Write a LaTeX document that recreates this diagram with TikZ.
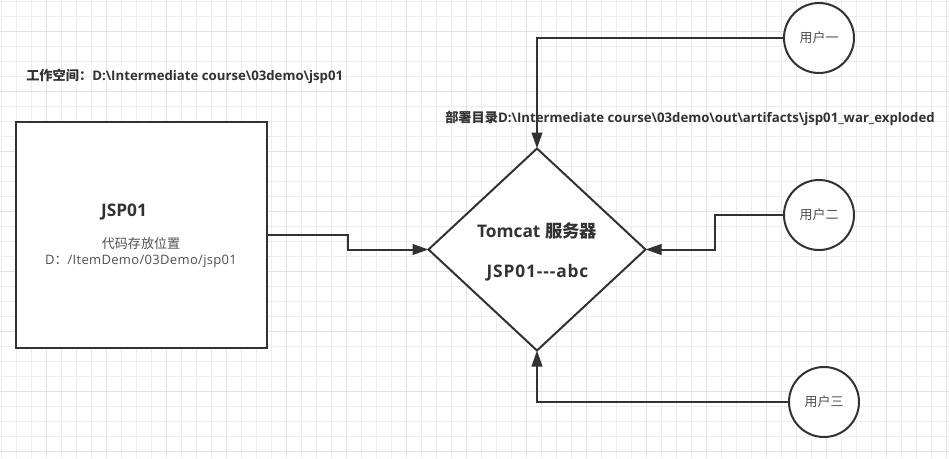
\documentclass[tikz,border=0pt]{standalone}
\usepackage{fontspec}
\setmainfont{Open Sans}
\newfontfamily\cjk{Noto Sans CJK SC}
\usetikzlibrary{shapes.geometric,arrows.meta}
\definecolor{ink}{HTML}{323232}
\tikzset{
  x=0.75pt,y=-0.75pt,
  shapeline/.style={draw=ink,line width=1.5pt,fill=white,inner sep=0pt,outer sep=0pt},
  conn/.style={draw=ink,line width=1.5pt,-{Triangle[length=12pt,width=8pt]}},
  boldtxt/.style={text=ink,font=\fontsize{9.9pt}{12pt}\selectfont\bfseries,inner sep=0pt},
  bigtxt/.style={text=ink,font=\fontsize{13pt}{15pt}\selectfont\bfseries,inner sep=0pt},
  plaintxt/.style={text=ink!85,font=\fontsize{9.75pt}{12pt}\selectfont,inner sep=0pt,align=center},
  usercircle/.style={shapeline,circle,minimum size=52.5pt}
}
\begin{document}
\begin{tikzpicture}
\useasboundingbox (0,0) rectangle (949,458);
\fill[white] (0,0) rectangle (949,458);
\foreach \gx in {1,16,...,949} \draw[black!7,line width=0.75pt] (\gx,0) -- (\gx,458);
\foreach \gy in {1,16,...,458} \draw[black!7,line width=0.75pt] (0,\gy) -- (949,\gy);
\foreach \gx in {46,106,...,949} \draw[black!11,line width=0.75pt] (\gx,0) -- (\gx,458);
\foreach \gy in {31,91,...,458} \draw[black!11,line width=0.75pt] (0,\gy) -- (949,\gy);
\node[shapeline,rectangle,minimum width=188pt,minimum height=169.5pt] (box) at (141.5,235) {};
\node[shapeline,diamond,minimum width=162.75pt,minimum height=151.5pt] (srv) at (537,249.5) {};
\node[usercircle] (u1) at (819,38) {};
\node[usercircle] (u2) at (819,215) {};
\node[usercircle] (u3) at (824,402) {};
\node[bigtxt] (t1) at (124,212) {JSP01};
\node[plaintxt] (t2) at (141,253) {{\cjk 代码存放位置}\\{\addfontfeature{LetterSpace=2.5}D{\cjk ：}/ItemDemo/03Demo/jsp01}};
\node[bigtxt] (t3) at (537,231) {Tomcat {\cjk 服务器}};
\node[bigtxt] (t4) at (537.5,273) {\addfontfeature{LetterSpace=5}JSP01{-}{-}{-}abc};
\node[boldtxt,anchor=west] (w) at (26,76.5) {{\cjk 工作空间：}D:\textbackslash Intermediate course\textbackslash 03demo\textbackslash jsp01};
\node[boldtxt,anchor=west] (d) at (445,118.5) {{\cjk 部署目录}D:\textbackslash Intermediate course\textbackslash 03demo\textbackslash out\textbackslash artifacts\textbackslash jsp01\_war\_exploded};
\node[plaintxt] (l1) at (819,38) {\cjk 用户一};
\node[plaintxt] (l2) at (819,215) {\cjk 用户二};
\node[plaintxt] (l3) at (824,402) {\cjk 用户三};
\draw[conn] (box.east |- 0,235) -- (348,235) -- (348,249.5) -- (srv.west);
\draw[conn] (u1.west) -| (srv.north);
\draw[conn] (u2.west) -- (715,215) -- (715,249.5) -- (srv.east);
\draw[conn] (u3.west) -| (srv.south);
\end{tikzpicture}
\end{document}
